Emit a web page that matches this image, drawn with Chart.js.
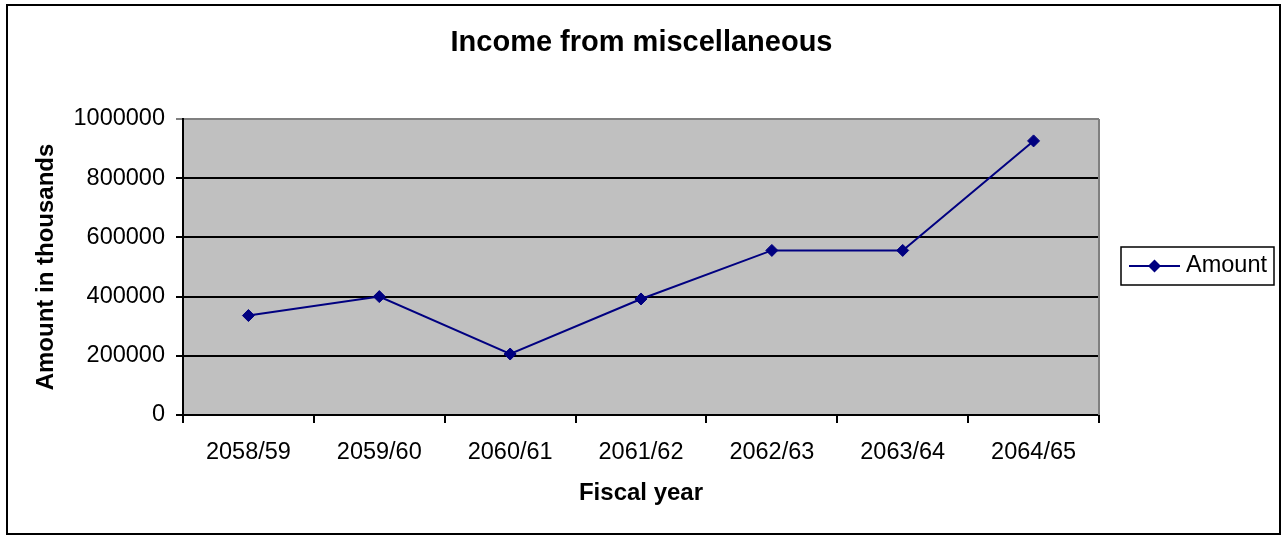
<!DOCTYPE html>
<html>
<head>
<meta charset="utf-8">
<script src="https://cdn.jsdelivr.net/npm/chart.js@4/dist/chart.umd.min.js"></script>
<style>
  body { margin: 0; background: #fff; }
  #wrap { width: 1283px; height: 536px; }
</style>
</head>
<body>
<div id="wrap"><canvas id="incomeChart" width="1283" height="536"></canvas></div>
<script>
let fiscalYears = ["2058/59", "2059/60", "2060/61", "2061/62", "2062/63", "2063/64", "2064/65"];
let amounts = [336000, 400000, 206000, 392000, 556000, 556000, 926000];
let yTicks = [0, 200000, 400000, 600000, 800000, 1000000];
let seriesName = "Amount";
let chartTitle = "Income from miscellaneous";

const FONT = "'Liberation Sans', Arial, sans-serif";
const NAVY = "#000080";

// white page, outer frame, grey plot background and the headline
let framePlugin = {
    id: "frame",
    beforeDraw(chart) {
        let ctx = chart.ctx;
        let a = chart.chartArea;
        ctx.save();
        ctx.fillStyle = "#fff";
        ctx.fillRect(0, 0, chart.width, chart.height);
        ctx.fillStyle = "#c0c0c0";
        ctx.fillRect(a.left, a.top, a.right - a.left, a.bottom - a.top);
        ctx.strokeStyle = "#000";
        ctx.lineWidth = 2;
        ctx.strokeRect(7, 5, 1273, 529);
        ctx.fillStyle = "#000";
        ctx.font = "bold 29px " + FONT;
        ctx.textAlign = "center";
        ctx.textBaseline = "middle";
        ctx.fillText(chartTitle, chart.width / 2, 43);
        ctx.restore();
    },
    beforeDatasetsDraw(chart) {
        let ctx = chart.ctx;
        let a = chart.chartArea;
        ctx.save();
        ctx.strokeStyle = "#808080";
        ctx.lineWidth = 2;
        ctx.beginPath();
        ctx.moveTo(a.right, a.top);
        ctx.lineTo(a.right, a.bottom);
        ctx.stroke();
        ctx.restore();
    },
    afterDraw(chart) {
        // boxed legend on the right
        let ctx = chart.ctx;
        let ds = chart.data.datasets[0];
        let y = 266;
        ctx.save();
        ctx.fillStyle = "#fff";
        ctx.fillRect(1121, 247, 153, 38);
        ctx.strokeStyle = "#000";
        ctx.lineWidth = 1.5;
        ctx.strokeRect(1121, 247, 153, 38);
        ctx.strokeStyle = ds.borderColor;
        ctx.lineWidth = 2;
        ctx.beginPath();
        ctx.moveTo(1129, y);
        ctx.lineTo(1180, y);
        ctx.stroke();
        ctx.fillStyle = ds.pointBackgroundColor;
        ctx.beginPath();
        ctx.moveTo(1154.5, y - 6.5);
        ctx.lineTo(1161, y);
        ctx.lineTo(1154.5, y + 6.5);
        ctx.lineTo(1148, y);
        ctx.closePath();
        ctx.fill();
        ctx.fillStyle = "#000";
        ctx.font = "23.5px " + FONT;
        ctx.textAlign = "left";
        ctx.textBaseline = "middle";
        ctx.fillText(ds.label, 1186, y);
        ctx.restore();
    }
};

let incomeChart = new Chart(document.getElementById("incomeChart").getContext("2d"), {
    type: "line",
    data: {
        labels: fiscalYears,
        datasets: [
            {
                label: seriesName,
                data: amounts,
                borderColor: NAVY,
                backgroundColor: NAVY,
                pointBackgroundColor: NAVY,
                pointBorderColor: NAVY,
                borderWidth: 2,
                pointStyle: "rectRot",
                pointRadius: 6,
                pointBorderWidth: 1,
                tension: 0,
                clip: false,
            },
        ]
    },
    options: {
        responsive: false,
        animation: false,
        layout: {
            padding: { left: 0, top: 119, right: 184, bottom: 0 }
        },
        plugins: {
            legend: { display: false },
            title: { display: false },
            tooltip: { enabled: false },
        },
        scales: {
            x: {
                offset: true,
                afterFit(scale) { scale.height = 121; },
                grid: {
                    offset: true,
                    drawOnChartArea: false,
                    tickLength: 8,
                    color: "#000",
                    lineWidth: 2,
                },
                border: { color: "#000", width: 2 },
                ticks: {
                    color: "#000",
                    padding: 15,
                    maxRotation: 0,
                    font: { family: FONT, size: 23.5 },
                },
                title: {
                    display: true,
                    text: "Fiscal year",
                    color: "#000",
                    font: { family: FONT, size: 24, weight: "bold" },
                    padding: { top: 0, bottom: 28 },
                },
            },
            y: {
                min: 0,
                max: 1000000,
                afterFit(scale) { scale.width = 183; },
                afterBuildTicks(scale) {
                    scale.ticks = yTicks.map(v => ({ value: v }));
                },
                grid: {
                    tickLength: 7,
                    color: ctx => (ctx.tick && ctx.tick.value === 1000000) ? "#808080" : "#000",
                    lineWidth: 2,
                },
                border: { color: "#000", width: 2 },
                ticks: {
                    color: "#000",
                    padding: 11,
                    font: { family: FONT, size: 23.5 },
                    callback: v => String(v),
                },
                title: {
                    display: true,
                    text: "Amount in thousands",
                    color: "#000",
                    font: { family: FONT, size: 24, weight: "bold" },
                    padding: { top: 32, bottom: 0 },
                },
            },
        },
    },
    plugins: [framePlugin],
})
</script>
</body>
</html>
